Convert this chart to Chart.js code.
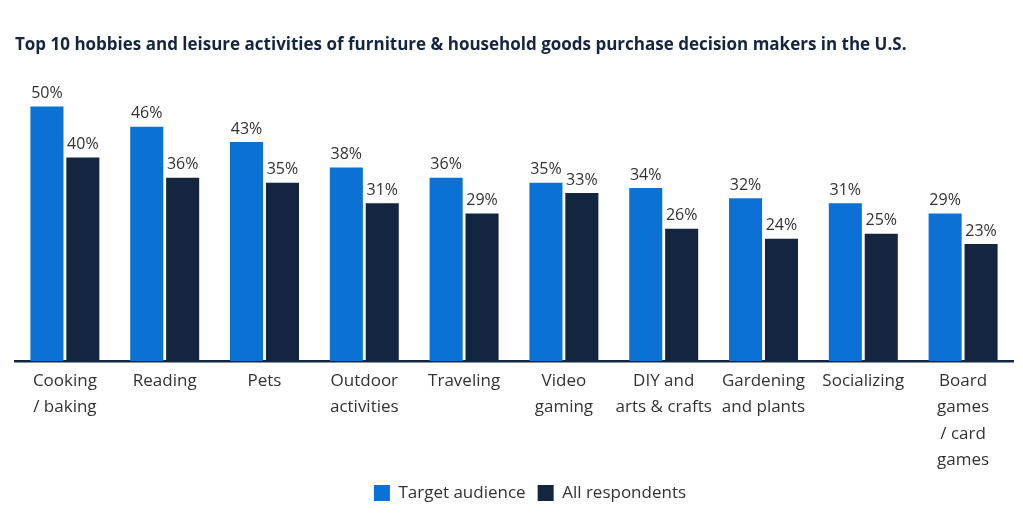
<!DOCTYPE html>
<html>
<head>
<meta charset="utf-8">
<script src="https://cdn.jsdelivr.net/npm/chart.js@4"></script>
<style>
  html, body { margin: 0; padding: 0; background: #fff; }
  #wrap { width: 1023px; height: 514px; }
</style>
</head>
<body>
<div id="wrap"><canvas id="hobbiesChart"></canvas></div>
<script>
// ======= Datos =======
const categorias = [
    ['Cooking', '/ baking'],
    ['Reading'],
    ['Pets'],
    ['Outdoor', 'activities'],
    ['Traveling'],
    ['Video', 'gaming'],
    ['DIY and', 'arts & crafts'],
    ['Gardening', 'and plants'],
    ['Socializing'],
    ['Board', 'games', '/ card', 'games']
];
const targetAudience = [50, 46, 43, 38, 36, 35, 34, 32, 31, 29];
const allRespondents = [40, 36, 35, 31, 29, 33, 26, 24, 25, 23];

// ======= Etiquetas de valor encima de las barras =======
const etiquetasValor = {
    id: 'etiquetasValor',
    afterDatasetsDraw(chart) {
        const ctx = chart.ctx;
        ctx.save();
        ctx.font = '16px "Open Sans"';
        ctx.fillStyle = '#333333';
        ctx.textAlign = 'center';
        ctx.textBaseline = 'bottom';
        chart.data.datasets.forEach((ds, i) => {
            chart.getDatasetMeta(i).data.forEach((bar, j) => {
                ctx.fillText(ds.data[j] + '%', bar.x, bar.y - 5);
            });
        });
        ctx.restore();
    }
};

// la leyenda del original está algo desplazada a la derecha
const moverLeyenda = {
    id: 'moverLeyenda',
    afterLayout(chart) {
        chart.legend.left += 16;
        chart.legend.right += 16;
    }
};

const ctx = document.getElementById('hobbiesChart').getContext('2d');
new Chart(ctx, {
    type: 'bar',
    data: {
        labels: categorias,
        datasets: [
            {
                label: 'Target audience',
                data: targetAudience,
                backgroundColor: '#0b71d5'
            },
            {
                label: 'All respondents',
                data: allRespondents,
                backgroundColor: '#13253f'
            }
        ]
    },
    options: {
        responsive: true,
        maintainAspectRatio: false,
        animation: false,
        layout: {
            padding: { left: 15, right: 10, top: 0, bottom: 2.5 }
        },
        datasets: {
            bar: { categoryPercentage: 0.72, barPercentage: 0.92 }
        },
        scales: {
            x: {
                grid: { display: true, drawOnChartArea: false, drawTicks: false },
                border: { display: true, color: '#13253f', width: 2.5 },
                ticks: {
                    autoSkip: false,
                    maxRotation: 0,
                    padding: 7,
                    color: '#333333',
                    font: { family: '"Open Sans"', size: 17, lineHeight: 1.55 }
                },
                // un poco menos de alto para que la leyenda quede pegada a las etiquetas
                afterFit(scale) {
                    scale.height -= 8;
                }
            },
            y: {
                display: false,
                min: 0,
                max: 55
            }
        },
        plugins: {
            title: {
                display: true,
                text: 'Top 10 hobbies and leisure activities of furniture & household goods purchase decision makers in the U.S.',
                align: 'start',
                color: '#13253f',
                font: { family: '"Open Sans"', size: 17, weight: 'bold', lineHeight: 1.2 },
                padding: { top: 35, bottom: 25.6 }
            },
            legend: {
                position: 'bottom',
                labels: {
                    boxWidth: 16,
                    boxHeight: 16,
                    padding: 12,
                    color: '#333333',
                    font: { family: '"Open Sans"', size: 17 }
                }
            },
            tooltip: { enabled: false }
        }
    },
    plugins: [etiquetasValor, moverLeyenda]
});
</script>
</body>
</html>
